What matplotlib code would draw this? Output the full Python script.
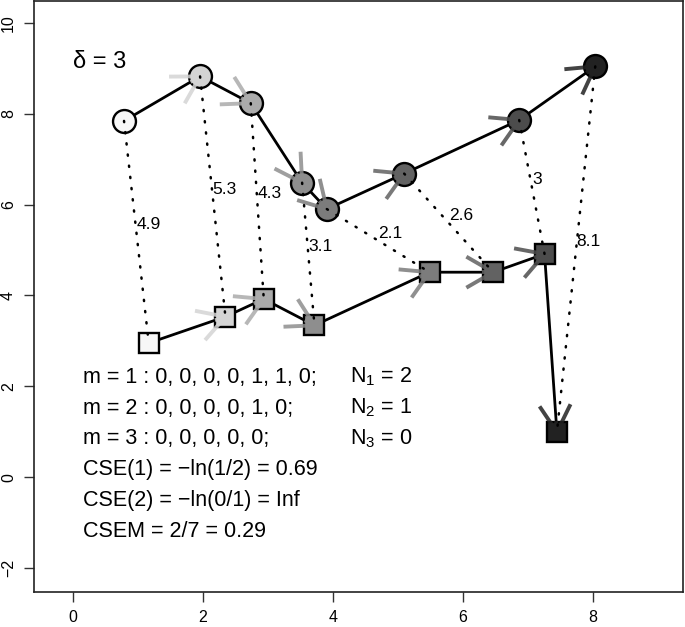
import numpy as np
import matplotlib
matplotlib.use('Agg')
import matplotlib.pyplot as plt

plt.rcParams['font.family'] = ['Liberation Sans', 'DejaVu Sans']
plt.rcParams['mathtext.fontset'] = 'custom'
plt.rcParams['mathtext.rm'] = 'Liberation Sans'
plt.rcParams['mathtext.it'] = 'Liberation Sans'

# trajectory 1 (circles) and trajectory 2 (squares)
cx = [0.79, 1.96, 2.74, 3.53, 3.91, 5.10, 6.87, 8.04]
cy = [7.84, 8.82, 8.23, 6.48, 5.90, 6.68, 7.86, 9.04]
sx = [1.17, 2.35, 2.94, 3.72, 5.49, 6.47, 7.26, 7.45]
sy = [2.95, 3.53, 3.92, 3.34, 4.51, 4.51, 4.91, 0.99]
dist_labels = ['4.9', '5.3', '4.3', '3.1', '2.1', '2.6', '3', '8.1']
fills = ['#f7f7f7', '#d4d4d4', '#ababab', '#8e8e8e', '#7c7c7c', '#626262', '#4c4c4c', '#222222']

info_left = ['m = 1 : 0, 0, 0, 0, 1, 1, 0;', 'm = 2 : 0, 0, 0, 0, 1, 0;', 'm = 3 : 0, 0, 0, 0, 0;',
             'CSE(1) = \u2212ln(1/2) = 0.69', 'CSE(2) = \u2212ln(0/1) = Inf', 'CSEM = 2/7 = 0.29']
info_right = [r'N$_1$ = 2', r'N$_2$ = 1', r'N$_3$ = 0']
info_y = [2.2, 1.52, 0.84, 0.16, -0.52, -1.2]

fig = plt.figure(figsize=(6.85, 6.27), dpi=100)
ax = fig.add_axes([34/685, 1-592/627, 649/685, 591/627])
ax.set_xlim(-0.595, 9.39)
ax.set_ylim(-2.53, 10.48)
ax.set_xticks(np.arange(0, 9, 2))
ax.set_yticks(np.arange(-2, 11, 2))
ax.set_yticklabels([str(v).replace('-', '\u2212') for v in range(-2, 11, 2)], rotation=90, va='center')
ax.tick_params(labelsize=11.5, length=7, width=1, pad=6, color='#333333')
for sp in ax.spines.values():
    sp.set_linewidth(1.2)
    sp.set_color('#222222')

# connecting lines
ax.plot(cx, cy, color='black', lw=2.0, zorder=2)
ax.plot(sx, sy, color='black', lw=2.0, zorder=2)

# points
for i in range(len(cx)):
    ax.plot(cx[i], cy[i], 'o', ms=16.5, mfc=fills[i], mec='black', mew=1.7, zorder=3)
    ax.plot(sx[i], sy[i], 's', ms=14.5, mfc=fills[i], mec='black', mew=1.7, zorder=3)

# arrow heads at each destination point, drawn in pixel space
def heads(xs, ys):
    tr = ax.transData
    pts = tr.transform(np.column_stack([xs, ys]))
    for i in range(1, len(pts)):
        p0, p1 = pts[i-1], pts[i]
        d = p0 - p1
        ang = np.arctan2(d[1], d[0])
        L = 31
        segs = []
        for a in (ang + np.radians(30), ang - np.radians(30)):
            segs.append([p1, p1 + L*np.array([np.cos(a), np.sin(a)])])
        segs.append([p1, p1 + 11*np.array([np.cos(ang), np.sin(ang)])])
        col = fills[i]
        for s in segs:
            dd = tr.inverted().transform(np.array(s))
            ax.plot(dd[:, 0], dd[:, 1], color=col, lw=2.8, alpha=0.85,
                    solid_capstyle='butt', zorder=4)

heads(cx, cy)
heads(sx, sy)

# dotted distance lines with labels
for i in range(len(cx)):
    ax.plot([cx[i], sx[i]], [cy[i], sy[i]], color='black', lw=1.8,
            linestyle=(0, (0.5, 4.0)), dash_capstyle='round', zorder=5)
    mx, my = (cx[i]+sx[i])/2, (cy[i]+sy[i])/2
    ax.text(mx, my, dist_labels[i], fontsize=12.5, ha='left', va='bottom', zorder=6)

ax.text(0.0, 9.14, '\u03b4 = 3', fontsize=17, ha='left', va='center')

for t, y in zip(info_left, info_y):
    ax.text(0.16, y, t, fontsize=15.5, ha='left', va='center')
for t, y in zip(info_right, info_y):
    ax.text(4.27, y, t, fontsize=15.5, ha='left', va='center')

fig.savefig('out.png', dpi=100)
